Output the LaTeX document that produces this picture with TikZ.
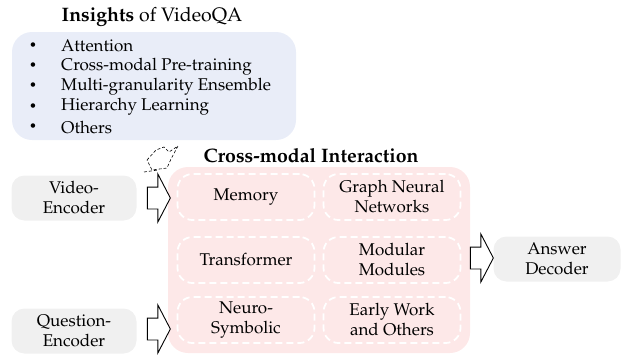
\documentclass[tikz,border=0pt]{standalone}
\usepackage[T1]{fontenc}
\usepackage{mathpazo}
\usepackage{tikz}
\usetikzlibrary{positioning,calc,shapes.arrows}

\definecolor{insightblue}{RGB}{233,237,248}
\definecolor{crosspink}{RGB}{253,232,232}
\definecolor{codergray}{RGB}{240,240,240}

\begin{document}
\begin{tikzpicture}[x=1pt,y=-1pt,font=\fontsize{17}{20}\selectfont]
\tikzset{coder/.style={fill=codergray,rounded corners=13pt,minimum width=125pt,minimum height=45pt,align=center,inner sep=0pt}}
\tikzset{method/.style={draw=white,line width=1.8pt,dash pattern=on 7pt off 4pt,rounded corners=15pt,minimum width=137pt,minimum height=46pt,align=center,inner sep=0pt}}
\tikzset{flow/.style={single arrow,draw,fill=white,line width=0.9pt,inner xsep=0pt,inner ysep=10.5pt,minimum height=23pt,minimum width=47pt,single arrow head extend=13pt,single arrow tip angle=125}}
\useasboundingbox (0,0) rectangle (621,354);

% insights
\node[font=\fontsize{19.5}{22}\selectfont] (title) at (152,17) {\textbf{Insights} of VideoQA};
\node[fill=insightblue,rounded corners=20pt,minimum width=284pt,minimum height=108pt] (insights) at (154,86) {};
\foreach \i/\txt in {0/Attention,1/Cross-modal Pre-training,2/Multi-granularity Ensemble,3/Hierarchy Learning,4/Others}{
  \node[font=\fontsize{13}{13}\selectfont] (b\i) at (33,46+20.3*\i) {\textbullet};
  \node[anchor=west,inner sep=0pt] (t\i) at (61,46+20.3*\i) {\txt};
}

% cross-modal interaction
\node[font=\fontsize{19.5}{22}\selectfont\bfseries] (crosstitle) at (311,156) {Cross-modal Interaction};
\node[fill=crosspink,rounded corners=20pt,minimum width=302pt,minimum height=186pt] (cross) at (319,260) {};
\node[method] (memory) at (246,197) {Memory};
\node[method] (gnn) at (392,197) {Graph Neural\\Networks};
\node[method] (transformer) at (246,260) {Transformer};
\node[method] (modular) at (392,260) {Modular\\Modules};
\node[method] (neuro) at (246,320) {Neuro-\\Symbolic};
\node[method] (early) at (392,320) {Early Work\\and Others};

% encoders and decoder
\node[coder] (video) at (74,198) {Video-\\Encoder};
\node[coder] (question) at (74,331) {Question-\\Encoder};
\node[coder,minimum width=127pt] (answer) at (557,259) {Answer\\Decoder};

\node[flow] (va) at (156,198) {};
\node[flow] (qa) at (156,329) {};
\node[flow] (ad) at (479,258) {};

% scribble
\draw[dashed,line width=0.6pt,dash pattern=on 3pt off 2pt] (147,160) -- (156,150) -- (164,147) -- (169,152) -- (178,146)
  -- (171,159) -- (167,168) -- (152,170) -- cycle;
\draw[dashed,line width=0.6pt,dash pattern=on 3pt off 2pt] (144,172) -- (158,170);
\end{tikzpicture}
\end{document}
